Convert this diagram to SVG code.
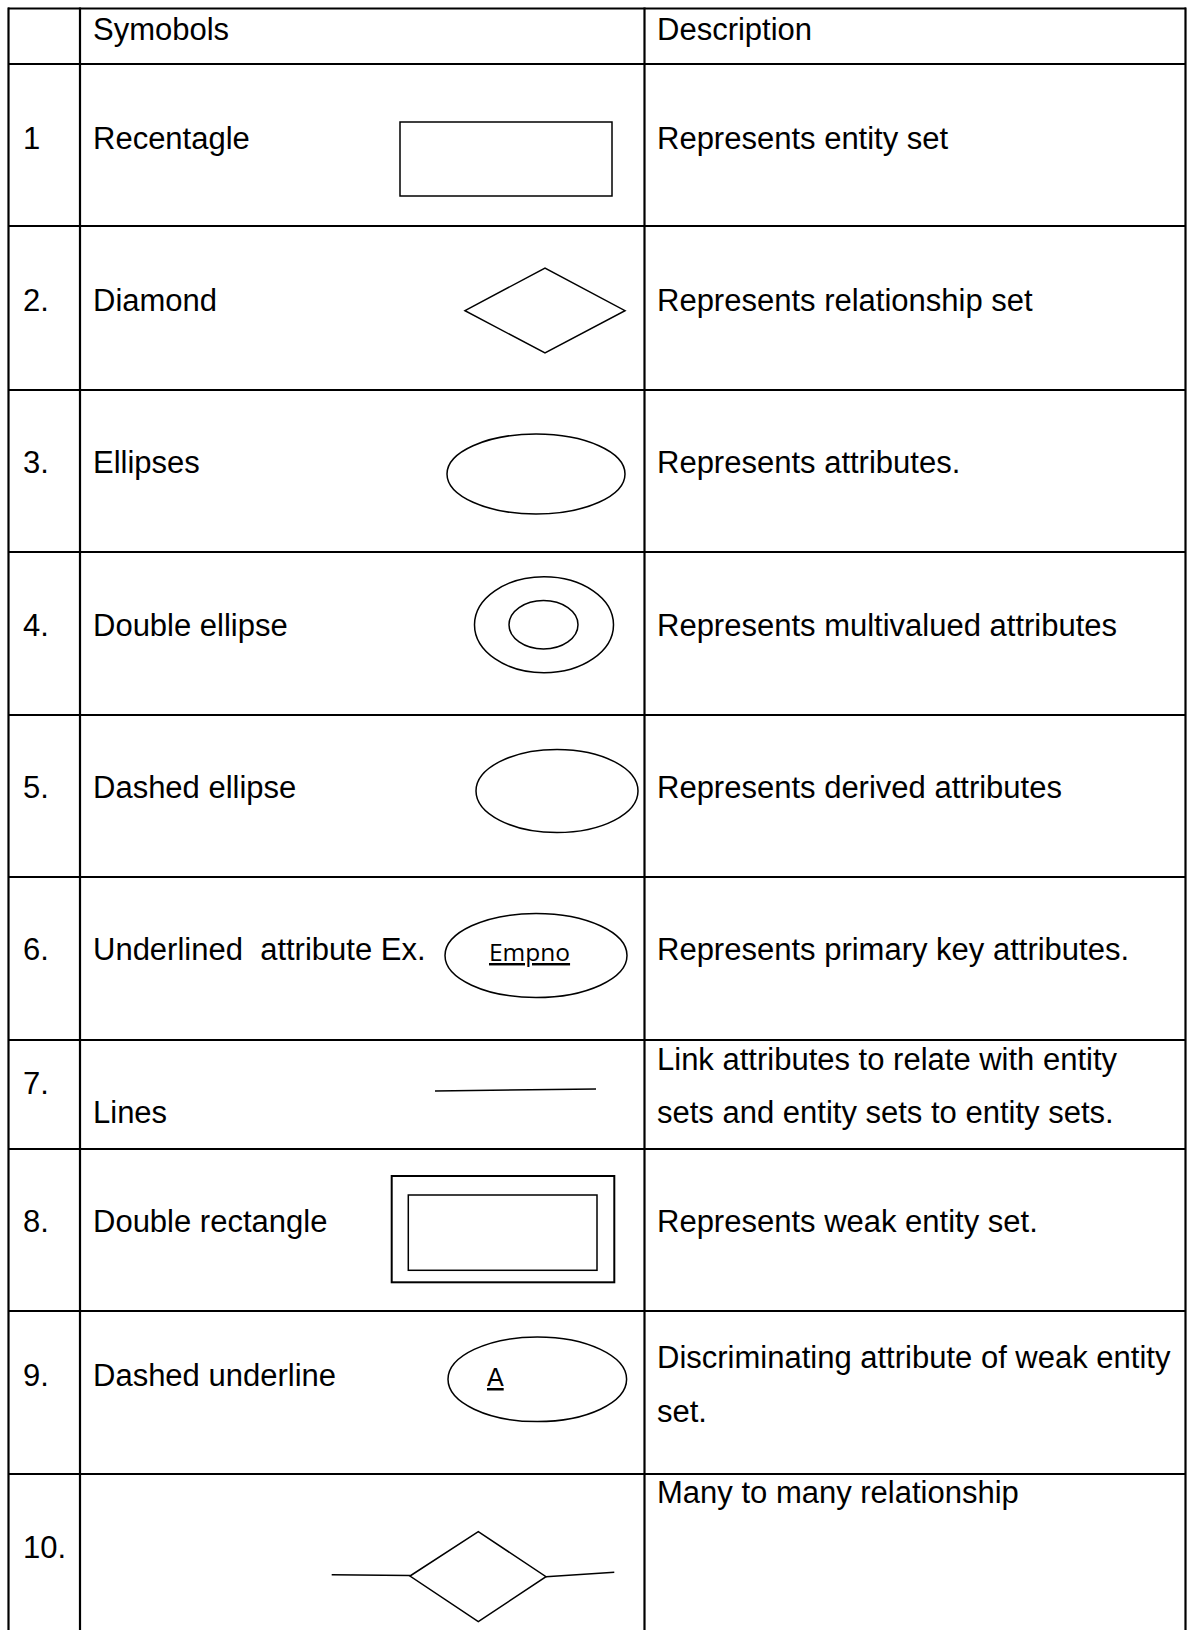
<svg xmlns="http://www.w3.org/2000/svg" width="1188" height="1630" viewBox="0 0 1188 1630">
<style>
.t{font-family:"Liberation Sans",Arial,sans-serif;font-size:31px;fill:#000}
.grid line{stroke:#000;stroke-width:2.2}
.s{fill:none;stroke:#000;stroke-width:1.5}
.c{fill:none;stroke:#000;stroke-width:1.5}
</style>
<rect width="1188" height="1630" fill="#fff"/>
<g id="table" class="grid">
<line x1="8" y1="8.5" x2="1186" y2="8.5"/>
<line x1="8" y1="64" x2="1186" y2="64"/>
<line x1="8" y1="226" x2="1186" y2="226"/>
<line x1="8" y1="390" x2="1186" y2="390"/>
<line x1="8" y1="552" x2="1186" y2="552"/>
<line x1="8" y1="715" x2="1186" y2="715"/>
<line x1="8" y1="877" x2="1186" y2="877"/>
<line x1="8" y1="1040" x2="1186" y2="1040"/>
<line x1="8" y1="1149" x2="1186" y2="1149"/>
<line x1="8" y1="1311" x2="1186" y2="1311"/>
<line x1="8" y1="1474" x2="1186" y2="1474"/>
<line x1="8.5" y1="7.5" x2="8.5" y2="1630"/>
<line x1="80" y1="7.5" x2="80" y2="1630"/>
<line x1="644.5" y1="7.5" x2="644.5" y2="1630"/>
<line x1="1185.5" y1="7.5" x2="1185.5" y2="1630"/>
</g>
<g id="header">
<text class="t" x="93" y="40">Symobols</text>
<text class="t" x="657" y="40">Description</text>
</g>
<g id="row1">
<text class="t" x="23" y="149">1</text>
<text class="t" x="93" y="149">Recentagle</text>
<rect class="s" x="400" y="122" width="212" height="74"/>
<text class="t" x="657" y="149">Represents entity set</text>
</g>
<g id="row2">
<text class="t" x="23" y="311">2.</text>
<text class="t" x="93" y="311">Diamond</text>
<polygon class="s" points="465,310.7 545,268 625,310.7 545,353"/>
<text class="t" x="657" y="311">Represents relationship set</text>
</g>
<g id="row3">
<text class="t" x="23" y="473">3.</text>
<text class="t" x="93" y="473">Ellipses</text>
<ellipse class="s" cx="536" cy="474" rx="89" ry="40"/>
<text class="t" x="657" y="473">Represents attributes.</text>
</g>
<g id="row4">
<text class="t" x="23" y="636">4.</text>
<text class="t" x="93" y="636">Double ellipse</text>
<ellipse class="s" cx="544" cy="624.7" rx="69.5" ry="48"/>
<ellipse class="s" cx="543.5" cy="624.8" rx="34.5" ry="24.2"/>
<text class="t" x="657" y="636">Represents multivalued attributes</text>
</g>
<g id="row5">
<text class="t" x="23" y="798">5.</text>
<text class="t" x="93" y="798">Dashed ellipse</text>
<ellipse class="s" cx="557" cy="791" rx="81" ry="41.5"/>
<text class="t" x="657" y="798">Represents derived attributes</text>
</g>
<g id="row6">
<text class="t" x="23" y="960">6.</text>
<text class="t" x="93" y="960" xml:space="preserve">Underlined  attribute Ex.</text>
<ellipse class="s" cx="536" cy="955.5" rx="91" ry="42"/>
<text x="489" y="961" font-family="'Open Sans','Noto Sans',sans-serif" font-size="24.5" text-decoration="underline">Empno</text>
<text class="t" x="657" y="960">Represents primary key attributes.</text>
</g>
<g id="row7">
<text class="t" x="23" y="1094">7.</text>
<text class="t" x="93" y="1123">Lines</text>
<text class="t" x="657" y="1070">Link attributes to relate with entity</text>
<text class="t" x="657" y="1123">sets and entity sets to entity sets.</text>
</g>
<g id="row8">
<text class="t" x="23" y="1232">8.</text>
<text class="t" x="93" y="1232">Double rectangle</text>
<rect x="391.7" y="1176" width="222.6" height="106.3" fill="none" stroke="#000" stroke-width="2"/>
<rect class="s" x="408.3" y="1195" width="188.7" height="75.3"/>
<text class="t" x="657" y="1232">Represents weak entity set.</text>
</g>
<g id="row9">
<text class="t" x="23" y="1386">9.</text>
<text class="t" x="93" y="1386">Dashed underline</text>
<ellipse class="s" cx="537.3" cy="1379.3" rx="89.3" ry="42.3"/>
<text x="487" y="1386" font-family="'Liberation Sans',Arial,sans-serif" font-size="25" text-decoration="underline">A</text>
<text class="t" x="657" y="1368">Discriminating attribute of weak entity</text>
<text class="t" x="657" y="1422">set.</text>
</g>
<g id="row10">
<text class="t" x="23" y="1558">10.</text>
<polygon class="s" points="410,1576 478.3,1531.7 546,1576.7 478.3,1621.7"/>
<text class="t" x="657" y="1503">Many to many relationship</text>
</g>
<g id="connectors">
<line class="c" x1="435" y1="1091" x2="596" y2="1089"/>
<line class="c" x1="331.7" y1="1574.7" x2="410" y2="1575.5"/>
<line class="c" x1="546" y1="1576.7" x2="614.3" y2="1572.3"/>
</g>
</svg>
